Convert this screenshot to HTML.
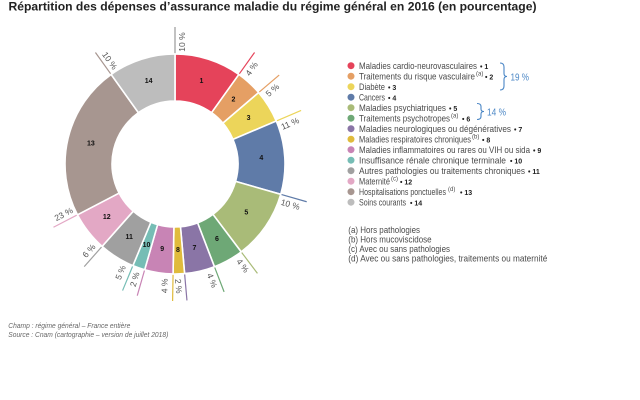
<!DOCTYPE html>
<html><head><meta charset="utf-8"><style>
html,body{margin:0;padding:0;background:#fff;}
svg{display:block;}
text{font-family:"Liberation Sans",sans-serif;}
</style></head><body>
<svg width="640" height="400" viewBox="0 0 640 400" xmlns="http://www.w3.org/2000/svg">
<rect width="640" height="400" fill="#fff"/>
<text x="8.5" y="10.5" font-size="12" font-weight="bold" fill="#222" textLength="528" lengthAdjust="spacingAndGlyphs">Répartition des dépenses d’assurance maladie du régime général en 2016 (en pourcentage)</text>

<!-- leader lines -->
<g stroke-width="1.2" fill="none">
<line x1="175" y1="54" x2="175" y2="27" stroke="#9a9a9a"/>
<line x1="238.88" y1="74.45" x2="254.56" y2="52.47" stroke="#e5435a"/>
<line x1="258.64" y1="92.57" x2="279.17" y2="75.03" stroke="#e59f64"/>
<line x1="276.26" y1="121.02" x2="301.11" y2="110.47" stroke="#ecd55a"/>
<line x1="280.74" y1="194.32" x2="306.7" y2="201.76" stroke="#5f7ba8"/>
<line x1="241.2" y1="251.85" x2="257.45" y2="273.41" stroke="#a9bb78"/>
<line x1="214.42" y1="266.7" x2="224.1" y2="291.9" stroke="#6ea876"/>
<line x1="184.59" y1="273.58" x2="186.95" y2="300.48" stroke="#8a75a6"/>
<line x1="173.07" y1="273.98" x2="172.6" y2="300.97" stroke="#e0bb3c"/>
<line x1="144.68" y1="269.74" x2="137.24" y2="295.7" stroke="#c884b5"/>
<line x1="132.9" y1="265.63" x2="122.57" y2="290.57" stroke="#76bdb5"/>
<line x1="102.11" y1="246.39" x2="84.22" y2="266.61" stroke="#a0a0a0"/>
<line x1="77.43" y1="214.79" x2="53.48" y2="227.25" stroke="#e3a8c5"/>
<line x1="111.12" y1="74.45" x2="95.44" y2="52.47" stroke="#a79690"/>
</g>

<!-- donut -->
<g stroke="#fff" stroke-width="1.6" stroke-linejoin="miter">
<path fill="#e5435a" d="M175,54 A110,110 0 0 1 238.88,74.45 L211.58,112.71 A63,63 0 0 0 175,101 Z"/>
<path fill="#e59f64" d="M238.88,74.45 A110,110 0 0 1 258.64,92.57 L222.91,123.09 A63,63 0 0 0 211.58,112.71 Z"/>
<path fill="#ecd55a" d="M258.64,92.57 A110,110 0 0 1 276.26,121.02 L232.99,139.39 A63,63 0 0 0 222.91,123.09 Z"/>
<path fill="#5f7ba8" d="M276.26,121.02 A110,110 0 0 1 280.74,194.32 L235.56,181.36 A63,63 0 0 0 232.99,139.39 Z"/>
<path fill="#a9bb78" d="M280.74,194.32 A110,110 0 0 1 241.2,251.85 L212.91,214.31 A63,63 0 0 0 235.56,181.36 Z"/>
<path fill="#6ea876" d="M241.2,251.85 A110,110 0 0 1 214.42,266.7 L197.58,222.82 A63,63 0 0 0 212.91,214.31 Z"/>
<path fill="#8a75a6" d="M214.42,266.7 A110,110 0 0 1 184.59,273.58 L180.49,226.76 A63,63 0 0 0 197.58,222.82 Z"/>
<path fill="#e0bb3c" d="M184.59,273.58 A110,110 0 0 1 173.07,273.98 L173.9,226.99 A63,63 0 0 0 180.49,226.76 Z"/>
<path fill="#c884b5" d="M173.07,273.98 A110,110 0 0 1 144.68,269.74 L157.64,224.56 A63,63 0 0 0 173.9,226.99 Z"/>
<path fill="#76bdb5" d="M144.68,269.74 A110,110 0 0 1 132.9,265.63 L150.89,222.21 A63,63 0 0 0 157.64,224.56 Z"/>
<path fill="#a0a0a0" d="M132.9,265.63 A110,110 0 0 1 102.11,246.39 L133.26,211.19 A63,63 0 0 0 150.89,222.21 Z"/>
<path fill="#e3a8c5" d="M102.11,246.39 A110,110 0 0 1 77.43,214.79 L119.12,193.09 A63,63 0 0 0 133.26,211.19 Z"/>
<path fill="#a79690" d="M77.43,214.79 A110,110 0 0 1 111.12,74.45 L138.42,112.71 A63,63 0 0 0 119.12,193.09 Z"/>
<path fill="#bdbdbd" d="M111.12,74.45 A110,110 0 0 1 175,54 L175,101 A63,63 0 0 0 138.42,112.71 Z"/>
</g>

<!-- segment numbers -->
<g font-size="7" font-weight="bold" fill="#111" text-anchor="middle" dominant-baseline="central">
<text x="201.4" y="81.6">1</text>
<text x="233.4" y="100.2">2</text>
<text x="248.6" y="118.5">3</text>
<text x="261.3" y="158.7">4</text>
<text x="246.3" y="213">5</text>
<text x="216.9" y="239.7">6</text>
<text x="194.5" y="248.3">7</text>
<text x="178" y="250.4">8</text>
<text x="162.2" y="249.5">9</text>
<text x="146.5" y="245.7">10</text>
<text x="129.2" y="237.4">11</text>
<text x="106.8" y="217.3">12</text>
<text x="90.9" y="143.8">13</text>
<text x="148.6" y="81.6">14</text>
</g>

<!-- percentage labels -->
<g font-size="8.5" fill="#555" text-anchor="middle" dominant-baseline="central">
<text transform="translate(182,42) rotate(-90)">10 %</text>
<text transform="translate(251.55,68.74) rotate(-54.5)">4 %</text>
<text transform="translate(272.32,90.09) rotate(-40.5)">5 %</text>
<text transform="translate(290.03,123.5) rotate(-23)">11 %</text>
<text transform="translate(290.35,204.35) rotate(16)">10 %</text>
<text transform="translate(242.83,265.64) rotate(53)">4 %</text>
<text transform="translate(212.18,280.41) rotate(69)">4 %</text>
<text transform="translate(178.67,286.15) rotate(85)">2 %</text>
<text transform="translate(164.5,285.86) rotate(271)">4 %</text>
<text transform="translate(134.65,279.35) rotate(286)">2 %</text>
<text transform="translate(120.5,272.5) rotate(292.5)">5 %</text>
<text transform="translate(88.92,250.74) rotate(311.5)">6 %</text>
<text transform="translate(63.56,214.12) rotate(332.5)">23 %</text>
<text transform="translate(109.85,60.62) rotate(54.5)">10 %</text>
</g>

<!-- legend dots -->
<g>
<circle cx="351" cy="65.7" r="3.5" fill="#e5435a"/>
<circle cx="351" cy="76.2" r="3.5" fill="#e59f64"/>
<circle cx="351" cy="86.7" r="3.5" fill="#ecd55a"/>
<circle cx="351" cy="97.2" r="3.5" fill="#5f7ba8"/>
<circle cx="351" cy="107.7" r="3.5" fill="#a9bb78"/>
<circle cx="351" cy="118.2" r="3.5" fill="#6ea876"/>
<circle cx="351" cy="128.7" r="3.5" fill="#8a75a6"/>
<circle cx="351" cy="139.2" r="3.5" fill="#e0bb3c"/>
<circle cx="351" cy="149.7" r="3.5" fill="#c884b5"/>
<circle cx="351" cy="160.2" r="3.5" fill="#76bdb5"/>
<circle cx="351" cy="170.7" r="3.5" fill="#a0a0a0"/>
<circle cx="351" cy="181.2" r="3.5" fill="#e3a8c5"/>
<circle cx="351" cy="191.7" r="3.5" fill="#a79690"/>
<circle cx="351" cy="202.2" r="3.5" fill="#bdbdbd"/>
</g>

<!-- legend text -->
<g font-size="9.5" fill="#4a4a4a" lengthAdjust="spacingAndGlyphs">
<text x="359" y="69" textLength="118" lengthAdjust="spacingAndGlyphs">Maladies cardio-neurovasculaires</text>
<text x="359" y="79.5" textLength="116" lengthAdjust="spacingAndGlyphs">Traitements du risque vasculaire</text>
<text x="359" y="90" textLength="26" lengthAdjust="spacingAndGlyphs">Diabète</text>
<text x="359" y="100.5" textLength="26" lengthAdjust="spacingAndGlyphs">Cancers</text>
<text x="359" y="111" textLength="87" lengthAdjust="spacingAndGlyphs">Maladies psychiatriques</text>
<text x="359" y="121.5" textLength="91" lengthAdjust="spacingAndGlyphs">Traitements psychotropes</text>
<text x="359" y="132" textLength="152" lengthAdjust="spacingAndGlyphs">Maladies neurologiques ou dégénératives</text>
<text x="359" y="142.5" textLength="112" lengthAdjust="spacingAndGlyphs">Maladies respiratoires chroniques</text>
<text x="359" y="153" textLength="171" lengthAdjust="spacingAndGlyphs">Maladies inflammatoires ou rares ou VIH ou sida</text>
<text x="359" y="163.5" textLength="147" lengthAdjust="spacingAndGlyphs">Insuffisance rénale chronique terminale</text>
<text x="359" y="174" textLength="166" lengthAdjust="spacingAndGlyphs">Autres pathologies ou traitements chroniques</text>
<text x="359" y="184.5" textLength="31" lengthAdjust="spacingAndGlyphs">Maternité</text>
<text x="359" y="195" textLength="87" lengthAdjust="spacingAndGlyphs">Hospitalisations ponctuelles</text>
<text x="359" y="205.5" textLength="47" lengthAdjust="spacingAndGlyphs">Soins courants</text>
</g>
<!-- superscripts -->
<g font-size="6" fill="#4a4a4a">
<text x="476" y="75.5">(a)</text>
<text x="451" y="117.5">(a)</text>
<text x="472" y="138.5">(b)</text>
<text x="391" y="180.5">(c)</text>
<text x="448" y="191">(d)</text>
</g>
<!-- bullets and numbers -->
<g font-size="7" font-weight="bold" fill="#222">
<text x="480" y="69">• 1</text>
<text x="485" y="79.5">• 2</text>
<text x="388" y="90">• 3</text>
<text x="388" y="100.5">• 4</text>
<text x="449" y="111">• 5</text>
<text x="462" y="121.5">• 6</text>
<text x="514" y="132">• 7</text>
<text x="482" y="142.5">• 8</text>
<text x="533" y="153">• 9</text>
<text x="510" y="163.5">• 10</text>
<text x="528" y="174">• 11</text>
<text x="400" y="184.5">• 12</text>
<text x="460" y="195">• 13</text>
<text x="410" y="205.5">• 14</text>
</g>

<!-- brackets -->
<g fill="none" stroke="#4a86c5" stroke-width="1.1">
<path d="M500,63 Q504,63 504,67 L504,73.5 Q504,76.5 507,76.5 Q504,76.5 504,79.5 L504,86 Q504,90 500,90"/>
<path d="M477,103.5 Q481,103.5 481,106.5 L481,109 Q481,111.5 484,111.5 Q481,111.5 481,114 L481,116.5 Q481,119.5 477,119.5"/>
</g>
<g font-size="10" fill="#4a86c5">
<text x="510.5" y="80.5" textLength="18.5" lengthAdjust="spacingAndGlyphs">19 %</text>
<text x="487" y="115.5" textLength="19" lengthAdjust="spacingAndGlyphs">14 %</text>
</g>

<!-- footnotes -->
<g font-size="9" fill="#4a4a4a">
<text x="348.3" y="233" textLength="71.7" lengthAdjust="spacingAndGlyphs">(a) Hors pathologies</text>
<text x="348.3" y="242.5" textLength="83.3" lengthAdjust="spacingAndGlyphs">(b) Hors mucoviscidose</text>
<text x="348.3" y="252" textLength="101.7" lengthAdjust="spacingAndGlyphs">(c) Avec ou sans pathologies</text>
<text x="348.3" y="261.5" textLength="199" lengthAdjust="spacingAndGlyphs">(d) Avec ou sans pathologies, traitements ou maternité</text>
</g>

<!-- footer -->
<g font-size="7.5" font-style="italic" fill="#666">
<text x="8.3" y="327.8" textLength="122" lengthAdjust="spacingAndGlyphs">Champ : régime général – France entière</text>
<text x="8.3" y="337.2" textLength="160" lengthAdjust="spacingAndGlyphs">Source : Cnam (cartographie – version de juillet 2018)</text>
</g>
</svg>
</body></html>
